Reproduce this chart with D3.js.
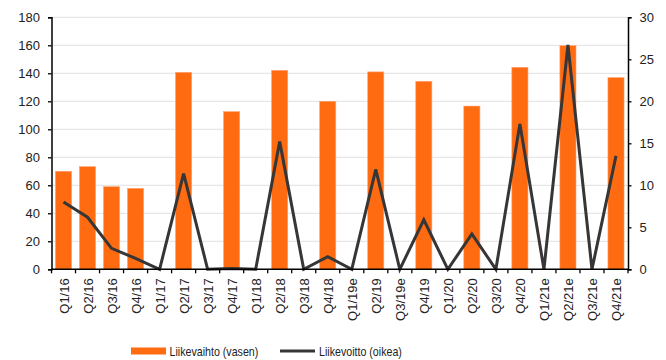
<!DOCTYPE html>
<html><head><meta charset="utf-8">
<script src="https://cdn.jsdelivr.net/npm/d3@7"></script>
<style>body{margin:0;background:#fff}svg{display:block}text{font-family:"Liberation Sans",Arial,sans-serif;fill:#222}</style>
</head><body><svg id="c" width="666" height="360"></svg>
<script>
const categories = ["Q1/16","Q2/16","Q3/16","Q4/16","Q1/17","Q2/17","Q3/17","Q4/17","Q1/18","Q2/18","Q3/18","Q4/18","Q1/19e","Q2/19","Q3/19e","Q4/19","Q1/20","Q2/20","Q3/20","Q4/20","Q1/21e","Q2/21e","Q3/21e","Q4/21e"];
const liikevaihto = [70,73.3,59,57.8,0,140.7,0,112.6,0,142.1,0,120,0,141,0,134.3,0,116.6,0,144.3,0,159.7,0,136.9];
const liikevoitto = [8,6.2,2.5,1.3,0,11.4,0,0.1,0,15.2,0,1.5,0,11.9,0,5.9,0,4.2,0,17.3,0,26.7,0,13.5];
const leftTicks = [0,20,40,60,80,100,120,140,160,180];
const rightTicks = [0,5,10,15,20,25,30];
const seriesNames = ["Liikevaihto (vasen)","Liikevoitto (oikea)"];

const svg = d3.select("#c");
const L = 51.5, R = 628, T = 17.3, B = 269.3;
const x = d3.scaleBand().domain(categories).range([L,R]).paddingInner(0.33).paddingOuter(0.165);
const xb = d3.scaleBand().domain(categories).range([L,R]);
const yL = d3.scaleLinear().domain([0,180]).range([B,T]);
const yR = d3.scaleLinear().domain([0,30]).range([B,T]);

// gridlines
svg.append("g").selectAll("line").data(leftTicks.slice(1)).join("line")
  .attr("x1",L).attr("x2",R).attr("y1",d=>yL(d)).attr("y2",d=>yL(d))
  .attr("stroke","#e6e6e6").attr("stroke-width",1.2);

// bars
svg.append("g").selectAll("rect").data(liikevaihto).join("rect")
  .attr("x",(d,i)=>x(categories[i])).attr("width",x.bandwidth())
  .attr("y",d=>yL(d)).attr("height",d=>B-yL(d))
  .attr("fill","#ff6b10").attr("stroke","#ffa070").attr("stroke-width",0.6);

// line
const line = d3.line().x((d,i)=>xb(categories[i])+xb.bandwidth()/2).y(d=>yR(d));
svg.append("path").datum(liikevoitto).attr("d",line)
  .attr("fill","none").attr("stroke","#363636").attr("stroke-width",3).attr("stroke-linejoin","miter");

// axes
const axL = svg.append("g").attr("transform",`translate(${L},0)`)
  .call(d3.axisLeft(yL).tickValues(leftTicks).tickSize(3.5).tickPadding(8));
const axR = svg.append("g").attr("transform",`translate(${R},0)`)
  .call(d3.axisRight(yR).tickValues(rightTicks).tickSize(3.5).tickPadding(8));
[axL,axR].forEach(a=>{
  a.select(".domain").attr("stroke","#000").attr("stroke-width",1.5);
  a.selectAll(".tick line").attr("stroke","#000").attr("stroke-width",1.3);
  a.selectAll("text").style("font-size","13px").attr("fill","#222");
});

// x axis
const gx = svg.append("g").attr("transform",`translate(0,${B})`);
gx.append("line").attr("x1",L).attr("x2",R).attr("stroke","#000").attr("stroke-width",1.5);
gx.selectAll("line.t").data(d3.range(categories.length+1)).join("line").attr("class","t")
  .attr("x1",i=>L+i*xb.step()).attr("x2",i=>L+i*xb.step()).attr("y1",0).attr("y2",4)
  .attr("stroke","#000").attr("stroke-width",1.3);
gx.selectAll("text").data(categories).join("text")
  .attr("transform",d=>`translate(${xb(d)+xb.bandwidth()/2+5},9) rotate(-90)`)
  .attr("text-anchor","end").style("font-size","13px").text(d=>d);

// legend
const lg = svg.append("g");
lg.append("rect").attr("x",131).attr("y",347.5).attr("width",35).attr("height",7).attr("fill","#ff6b10");
lg.append("text").attr("transform","translate(169.5,355.7) scale(0.82,1)").style("font-size","13px").text(seriesNames[0]);
lg.append("line").attr("x1",280).attr("x2",315).attr("y1",351).attr("y2",351).attr("stroke","#363636").attr("stroke-width",3);
lg.append("text").attr("transform","translate(319,355.7) scale(0.82,1)").style("font-size","13px").text(seriesNames[1]);
</script></body></html>
